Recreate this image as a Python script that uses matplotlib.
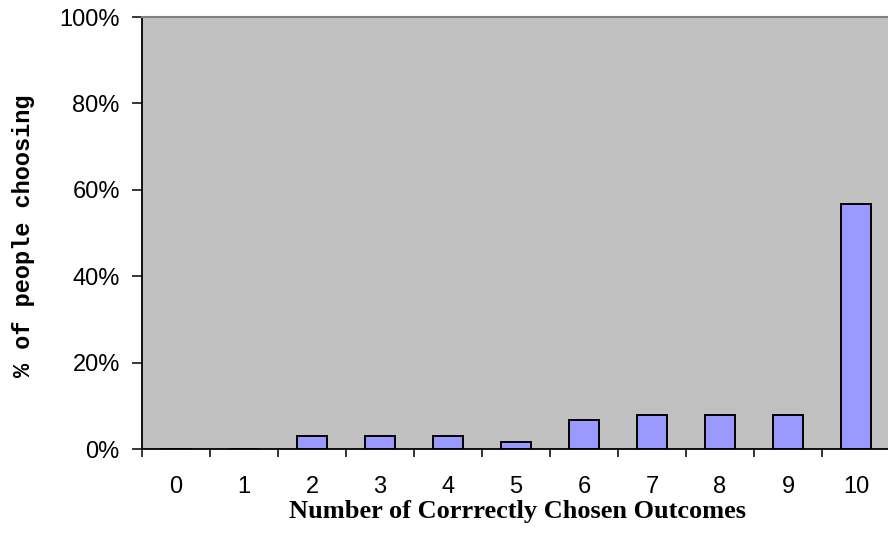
import matplotlib
matplotlib.use("Agg")
import matplotlib.pyplot as plt
from matplotlib.ticker import FuncFormatter, FixedLocator
import numpy as np

# data
outcomes = [0, 1, 2, 3, 4, 5, 6, 7, 8, 9, 10]
pct_choosing = [0.0, 0.0, 3.0, 3.0, 3.0, 1.6, 6.6, 7.9, 7.9, 7.9, 56.7]
y_ticks = [0, 20, 40, 60, 80, 100]

x_title = "Number of Corrrectly Chosen Outcomes"
y_title = "% of people choosing"

bar_color = "#9999FF"
plot_bg = "#C0C0C0"

fig = plt.figure(figsize=(8.88, 5.44), dpi=100)
# axes spans slightly past the right edge like the original
ax = fig.add_axes([142 / 888, 95 / 544, 748 / 888, 432 / 544])
ax.set_facecolor(plot_bg)

x = np.arange(len(outcomes))
ax.bar(x, pct_choosing, width=0.44, color=bar_color, edgecolor="black", linewidth=1.4, zorder=3)

ax.set_xlim(-0.5, len(outcomes) - 0.5)
ax.set_ylim(0, 100)

# ticks between categories, labels centred under them
ax.xaxis.set_major_locator(FixedLocator(np.arange(len(outcomes) + 1) - 0.5))
ax.xaxis.set_minor_locator(FixedLocator(x))
ax.set_xticklabels([])
ax.set_xticklabels([str(o) for o in outcomes], minor=True)
ax.tick_params(axis="x", which="major", direction="out", length=6, width=1.1, color="black")
ax.tick_params(axis="x", which="minor", length=0, pad=19.5, labelsize=17)

ax.set_yticks(y_ticks)
ax.yaxis.set_major_formatter(FuncFormatter(lambda v, p: f"{int(v)}%"))
ax.tick_params(axis="y", direction="out", length=7, width=1.1, pad=9, labelsize=17)

for lbl in ax.get_xticklabels(minor=True) + ax.get_yticklabels():
    lbl.set_fontfamily("Liberation Sans")

ax.spines["left"].set_linewidth(1.3)
ax.spines["bottom"].set_linewidth(1.3)
ax.spines["top"].set_color("#808080")
ax.spines["top"].set_linewidth(1.5)
ax.spines["right"].set_visible(False)

# axis titles centred on the plot area
fig.text(517 / 888, 1 - 518 / 544, x_title, ha="center", va="baseline",
         fontfamily="Liberation Serif", fontweight="bold", fontsize=19)
fig.text(24 / 888, 1 - 236 / 544, y_title, ha="center", va="center", rotation=90,
         fontfamily="Liberation Mono", fontweight="bold", fontsize=17)

fig.savefig("out.png", dpi=100)
